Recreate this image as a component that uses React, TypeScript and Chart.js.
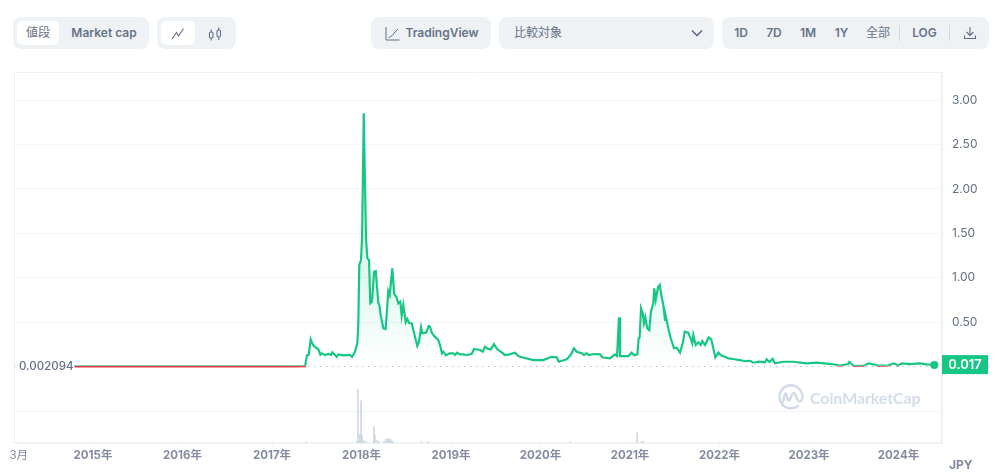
import React, { useEffect, useRef } from "react";
import { Chart, registerables } from "chart.js";

Chart.register(...registerables);

const FONT = 'Inter, "Noto Sans CJK JP", sans-serif';
const UP = "#16c784";
const DOWN = "#ea3943";

const baselinePrice = 0.002094;
const lastPriceLabel = "0.017";
const baselineLabel = "0.002094";
const currencyLabel = "JPY";

const priceTicks = [0.5, 1, 1.5, 2, 2.5, 3];
const volumeGrid = [20];
const xTickValues = [2014.17, 2015, 2016, 2017, 2018, 2019, 2020, 2021, 2022, 2023, 2024];
const xTickLabels = ["3月", "2015年", "2016年", "2017年", "2018年", "2019年", "2020年", "2021年", "2022年", "2023年", "2024年"];

const priceDates = [
  2014.79, 2015.05, 2015.3, 2015.55, 2015.8, 2016.05, 2016.3, 2016.55, 2016.8, 2017.05, 2017.25, 2017.369,
  2017.391, 2017.41, 2017.432, 2017.45, 2017.466, 2017.488, 2017.517, 2017.54, 2017.555, 2017.592, 2017.629, 2017.659,
  2017.674, 2017.723, 2017.741, 2017.797, 2017.871, 2017.894, 2017.927, 2017.953, 2017.964, 2017.975, 2017.994, 2018.006,
  2018.025, 2018.036, 2018.05, 2018.065, 2018.084, 2018.098, 2018.117, 2018.14, 2018.159, 2018.188, 2018.199, 2018.214,
  2018.244, 2018.27, 2018.299, 2018.315, 2018.344, 2018.366, 2018.389, 2018.411, 2018.433, 2018.449, 2018.467, 2018.494,
  2018.512, 2018.534, 2018.561, 2018.587, 2018.623, 2018.642, 2018.665, 2018.679, 2018.721, 2018.751, 2018.765, 2018.788,
  2018.818, 2018.855, 2018.877, 2018.899, 2018.914, 2018.944, 2018.981, 2019.026, 2019.045, 2019.067, 2019.1, 2019.137,
  2019.175, 2019.231, 2019.257, 2019.324, 2019.354, 2019.38, 2019.406, 2019.444, 2019.48, 2019.517, 2019.555, 2019.603,
  2019.651, 2019.715, 2019.752, 2019.771, 2019.919, 2020.031, 2020.125, 2020.181, 2020.203, 2020.293, 2020.337, 2020.374,
  2020.404, 2020.46, 2020.486, 2020.516, 2020.542, 2020.598, 2020.665, 2020.69, 2020.776, 2020.832, 2020.855, 2020.877,
  2020.888, 2020.925, 2020.981, 2021.019, 2021.045, 2021.082, 2021.097, 2021.108, 2021.123, 2021.142, 2021.156, 2021.171,
  2021.193, 2021.215, 2021.234, 2021.26, 2021.271, 2021.287, 2021.313, 2021.332, 2021.35, 2021.372, 2021.391, 2021.402,
  2021.428, 2021.455, 2021.492, 2021.522, 2021.559, 2021.589, 2021.611, 2021.651, 2021.678, 2021.696, 2021.707, 2021.734,
  2021.763, 2021.79, 2021.808, 2021.838, 2021.879, 2021.908, 2021.931, 2021.953, 2021.987, 2022.013, 2022.061, 2022.098,
  2022.154, 2022.221, 2022.285, 2022.341, 2022.378, 2022.433, 2022.508, 2022.527, 2022.556, 2022.594, 2022.62, 2022.713,
  2022.824, 2022.974, 2023.086, 2023.253, 2023.346, 2023.439, 2023.45, 2023.495, 2023.607, 2023.67, 2023.774, 2023.886,
  2023.95, 2023.998, 2024.036, 2024.128, 2024.24, 2024.315, 2024.4,
];

const prices = [
  0.0022, 0.0021, 0.0019, 0.0022, 0.0021, 0.0017, 0.002, 0.0022, 0.0021, 0.0018, 0.0021, 0.004,
  0.127, 0.134, 0.307, 0.262, 0.232, 0.217, 0.195, 0.134, 0.15, 0.131, 0.142, 0.131,
  0.161, 0.111, 0.138, 0.127, 0.131, 0.111, 0.168, 0.262, 0.468, 1.144, 1.2, 1.448,
  2.852, 2.195, 1.448, 1.219, 1.2, 0.713, 0.731, 1.069, 1.076, 0.713, 0.694, 0.581,
  0.431, 0.423, 0.851, 0.806, 1.107, 0.817, 0.787, 0.713, 0.731, 0.573, 0.694, 0.499,
  0.536, 0.488, 0.488, 0.378, 0.232, 0.28, 0.443, 0.375, 0.382, 0.457, 0.449, 0.375,
  0.337, 0.307, 0.243, 0.15, 0.168, 0.127, 0.15, 0.15, 0.131, 0.157, 0.138, 0.138,
  0.131, 0.142, 0.198, 0.187, 0.168, 0.224, 0.202, 0.195, 0.254, 0.195, 0.168, 0.131,
  0.138, 0.157, 0.119, 0.111, 0.074, 0.074, 0.111, 0.105, 0.055, 0.082, 0.131, 0.206,
  0.168, 0.15, 0.131, 0.15, 0.131, 0.142, 0.138, 0.105, 0.093, 0.138, 0.119, 0.555,
  0.119, 0.119, 0.119, 0.157, 0.127, 0.138, 0.319, 0.33, 0.656, 0.6, 0.488, 0.555,
  0.431, 0.412, 0.618, 0.713, 0.882, 0.75, 0.893, 0.919, 0.806, 0.694, 0.525, 0.555,
  0.431, 0.319, 0.206, 0.213, 0.157, 0.262, 0.393, 0.382, 0.319, 0.262, 0.356, 0.243,
  0.274, 0.243, 0.288, 0.243, 0.33, 0.307, 0.206, 0.105, 0.157, 0.127, 0.111, 0.093,
  0.086, 0.074, 0.063, 0.066, 0.044, 0.055, 0.048, 0.082, 0.052, 0.089, 0.037, 0.055,
  0.055, 0.037, 0.044, 0.029, 0.012, 0.029, 0.052, 0.012, 0.01, 0.037, 0.012, 0.014,
  0.037, 0.012, 0.037, 0.029, 0.037, 0.026, 0.017,
];

const volumeDates = [
  2017.383, 2017.949, 2017.96, 2017.982, 2017.994, 2018.005, 2018.027, 2018.05, 2018.139, 2018.15, 2018.176, 2018.19,
  2018.251, 2018.27, 2018.291, 2018.307, 2018.325, 2018.343, 2018.35, 2018.67, 2018.745, 2020.33, 2021.08, 2021.13, 2021.145,
];
const volumes = [
  0.7, 1, 33.75, 5.3, 26.3, 5, 1.3, 0.9, 10, 5, 1.6, 0.8,
  0.9, 2.2, 2.8, 2.8, 2.2, 1.2, 0.8, 0.8, 0.8, 0.7, 6.3, 0.9, 0.9,
];

const xMin = 2014.117;
const xMax = 2024.486;
const yMin = -0.86;
const yMax = 3.317;
const y2Max = 231.9;

const points = (xs: number[], ys: number[]) => xs.map((x, i) => ({ x, y: ys[i] }));

const clipPlugin = {
  id: "splitAtBaseline",
  beforeDatasetDraw(chart: any, args: any) {
    const side = (chart.data.datasets[args.index] as any).clipSide;
    if (!side) return;
    const { ctx, chartArea: a, scales } = chart;
    const py = scales.y.getPixelForValue(baselinePrice) - 0.7;
    ctx.save();
    ctx.beginPath();
    if (side === "above") ctx.rect(a.left, a.top - 2, a.right - a.left + 4, py - a.top + 2);
    else ctx.rect(a.left, py, a.right - a.left + 4, a.bottom - py);
    ctx.clip();
  },
  afterDatasetDraw(chart: any, args: any) {
    if ((chart.data.datasets[args.index] as any).clipSide) chart.ctx.restore();
  },
};

const framePlugin = {
  id: "frame",
  beforeDatasetsDraw(chart: any) {
    const { ctx, chartArea: a } = chart;
    ctx.save();
    ctx.strokeStyle = "#eff2f5";
    ctx.lineWidth = 1;
    ctx.beginPath();
    ctx.moveTo(a.left + 0.5, a.bottom);
    ctx.lineTo(a.left + 0.5, a.top + 0.5);
    ctx.lineTo(a.right, a.top + 0.5);
    ctx.stroke();
    ctx.lineWidth = 2;
    ctx.beginPath();
    ctx.moveTo(a.left, a.bottom);
    ctx.lineTo(a.right, a.bottom);
    ctx.lineTo(a.right, a.top);
    ctx.stroke();
    ctx.restore();
  },
};

const labelsPlugin = {
  id: "priceLabels",
  afterDraw(chart: any) {
    const { ctx, chartArea: a, scales } = chart;
    const baseY = scales.y.getPixelForValue(baselinePrice);
    const lastY = scales.y.getPixelForValue(prices[prices.length - 1]);
    ctx.save();
    ctx.textBaseline = "middle";
    ctx.textAlign = "left";
    ctx.font = `500 11.5px ${FONT}`;
    const w = ctx.measureText(baselineLabel).width;
    ctx.fillStyle = "#ffffff";
    ctx.fillRect(18, baseY - 7, w + 2, 14);
    ctx.fillStyle = "#616e85";
    ctx.fillText(baselineLabel, 19, baseY + 0.5);

    ctx.fillStyle = UP;
    ctx.fillRect(a.right, lastY - 10, 46, 19);
    ctx.fillStyle = "#ffffff";
    ctx.textAlign = "center";
    ctx.font = `600 13px ${FONT}`;
    ctx.fillText(lastPriceLabel, a.right + 23, lastY);

    ctx.fillStyle = "#808a9d";
    ctx.textAlign = "left";
    ctx.font = `700 12px ${FONT}`;
    ctx.fillText(currencyLabel, 949, 465.5);
    ctx.restore();
  },
};

const box = (left: number, top: number, width: number, height: number, extra: any = {}) => ({
  position: "absolute" as const,
  left,
  top,
  width,
  height,
  boxSizing: "border-box" as const,
  ...extra,
});

const text = (cx: number, label: string, weight = 600, size = 12, top = 21) => (
  <div
    style={box(cx - 40, top, 80, 24, {
      lineHeight: "24px",
      textAlign: "center",
      fontSize: size,
      fontWeight: weight,
      color: "#667389",
      whiteSpace: "nowrap",
    })}
  >
    {label}
  </div>
);

const panel = (left: number, width: number) => (
  <div style={box(left, 17, width, 32, { background: "#eff2f5", borderRadius: 8 })} />
);
const pill = (left: number, width: number) => (
  <div style={box(left, 21, width, 24, { background: "#ffffff", borderRadius: 6 })} />
);
const sep = (left: number) => <div style={box(left, 25, 1, 16, { background: "#cfd6e4" })} />;

const Toolbar = () => (
  <>
    {panel(13, 136)}
    {pill(17, 42)}
    {text(38, "値段", 400)}
    {text(104, "Market cap")}
    {panel(157, 79)}
    {pill(161, 34)}
    <svg style={box(171, 27, 14, 13)} viewBox="0 0 14 13" fill="none" stroke="#616e85" strokeWidth="1.1">
      <path d="M1 12 L5.5 5.5 L7.5 9 L12.5 1.5" />
    </svg>
    <svg style={box(208, 27, 14, 14)} viewBox="0 0 14 14" fill="none" stroke="#616e85" strokeWidth="1.1">
      <rect x="1.5" y="5" width="3.5" height="6" rx="1.5" />
      <path d="M3.2 2.5V5M3.2 11v2.5" />
      <rect x="9" y="3" width="3.5" height="7" rx="1.5" />
      <path d="M10.7 0.5V3M10.7 10v3" />
    </svg>
    {panel(371, 120)}
    <svg style={box(385, 26, 15, 15)} viewBox="0 0 15 15" fill="none" stroke="#616e85" strokeWidth="1">
      <path d="M1 1V14H14.5" />
      <path d="M3.5 11.5 C6 11 8 9 9 7 L13 3" />
    </svg>
    {text(442, "TradingView")}
    {panel(499, 215)}
    {text(538, "比較対象", 400)}
    <svg style={box(691, 29, 12, 8)} viewBox="0 0 12 8" fill="none" stroke="#616e85" strokeWidth="1.6">
      <path d="M1 1.5 L6 6.5 L11 1.5" />
    </svg>
    {panel(722, 267)}
    {text(741, "1D")}
    {text(774, "7D")}
    {text(808, "1M")}
    {text(841.5, "1Y")}
    {text(878, "全部", 400)}
    {sep(899)}
    {text(924.5, "LOG")}
    {sep(949)}
    <svg style={box(963, 26, 14, 14)} viewBox="0 0 14 14" fill="none" stroke="#616e85" strokeWidth="1.1">
      <path d="M7 1V9M3.5 6 L7 9.5 L10.5 6M1.5 9.5V12.5H12.5V9.5" />
    </svg>
  </>
);

const Watermark = () => (
  <>
    <svg style={box(778, 384, 26, 26)} viewBox="0 0 26 26" fill="none" stroke="#d5dce9" strokeWidth="2.6">
      <path d="M20 22 A11.5 11.5 0 1 1 24.5 13 C24.5 17 22 18 20.5 17 C18.5 15.5 18 11 16.5 9.5 C15 8.5 14 10 13 13 C12 16 11 17 10 16 C8.5 13.5 9 9.5 7.5 9.5 C6 9.5 6 15 5 18" strokeLinecap="round" />
    </svg>
    <div
      style={box(810, 386, 115, 24, {
        fontFamily: "Lato, sans-serif",
        fontWeight: 700,
        fontSize: 16,
        lineHeight: "24px",
        letterSpacing: "-0.1px",
        color: "#d5dce9",
        whiteSpace: "nowrap",
      })}
    >
      CoinMarketCap
    </div>
  </>
);

export default function App() {
  const ref = useRef<HTMLCanvasElement>(null);

  useEffect(() => {
    const gridColor = "#f3f5f8";
    const chart = new Chart(ref.current as HTMLCanvasElement, {
      type: "line",
      data: {
        datasets: [
          {
            data: [points(priceDates, prices)[prices.length - 1]],
            pointRadius: 4,
            pointBackgroundColor: UP,
            pointBorderWidth: 0,
            showLine: false,
            order: 0,
            clip: false,
          },
          {
            data: points(priceDates, prices),
            clipSide: "above",
            borderColor: UP,
            borderWidth: 2.2,
            pointRadius: 0,
            tension: 0,
            order: 1,
            fill: { value: baselinePrice },
            backgroundColor: (c: any) => {
              const { chart: ch } = c;
              if (!ch.chartArea) return "transparent";
              const g = ch.ctx.createLinearGradient(
                0,
                ch.scales.y.getPixelForValue(1),
                0,
                ch.scales.y.getPixelForValue(baselinePrice),
              );
              g.addColorStop(0, "rgba(22,199,132,0.13)");
              g.addColorStop(1, "rgba(22,199,132,0)");
              return g;
            },
          },
          {
            data: points(priceDates, prices),
            clipSide: "below",
            borderColor: DOWN,
            borderWidth: 2.2,
            pointRadius: 0,
            tension: 0,
            order: 2,
          },
          {
            data: points([priceDates[0], priceDates[priceDates.length - 1]], [baselinePrice, baselinePrice]),
            borderColor: "#8f98aa",
            borderWidth: 1,
            borderDash: [1, 5],
            pointRadius: 0,
            order: 3,
          },
          {
            data: points([xMin, priceDates[0]], [baselinePrice, baselinePrice]),
            borderColor: "rgba(234,57,67,0.1)",
            borderWidth: 2,
            pointRadius: 0,
            order: 4,
          },
          {
            type: "bar",
            data: points(volumeDates, volumes),
            yAxisID: "y2",
            backgroundColor: "#cfd6e4",
            barThickness: 1,
            order: 5,
          },
        ] as any,
      },
      options: {
        animation: false,
        responsive: false,
        devicePixelRatio: 1,
        layout: { padding: { left: 14, top: 72, right: 0, bottom: 0 } },
        plugins: { legend: { display: false }, tooltip: { enabled: false } },
        scales: {
          x: {
            type: "linear",
            min: xMin,
            max: xMax,
            offset: false,
            border: { display: false },
            grid: { offset: false, drawOnChartArea: false, drawTicks: true, tickLength: 3, tickColor: "#eff2f5" },
            afterBuildTicks: (axis: any) => {
              axis.ticks = xTickValues.map((value) => ({ value }));
            },
            afterFit: (axis: any) => {
              axis.height = 31;
            },
            ticks: {
              autoSkip: false,
              maxRotation: 0,
              padding: 3,
              callback: (v: any) => xTickLabels[xTickValues.indexOf(v)],
              font: (c: any) => ({ family: FONT, size: 11.5, weight: c.index === 0 ? "400" : "700" }),
              color: (c: any) => (c.index === 0 ? "#808a9d" : "#858ca2"),
            },
          },
          y: {
            position: "right",
            min: yMin,
            max: yMax,
            border: { display: false },
            grid: { color: gridColor, drawTicks: false },
            afterBuildTicks: (axis: any) => {
              axis.ticks = priceTicks.map((value) => ({ value }));
            },
            afterFit: (axis: any) => {
              axis.width = 53;
            },
            ticks: {
              padding: 10,
              autoSkip: false,
              callback: (v: any) => Number(v).toFixed(2),
              font: { family: FONT, size: 12, weight: "400" },
              color: "#616e85",
            },
          },
          y2: {
            position: "left",
            min: 0,
            max: y2Max,
            border: { display: false },
            grid: { color: gridColor, drawTicks: false },
            afterBuildTicks: (axis: any) => {
              axis.ticks = volumeGrid.map((value) => ({ value }));
            },
            afterFit: (axis: any) => {
              axis.width = 0;
            },
            ticks: { display: false },
          },
        },
      } as any,
      plugins: [clipPlugin, framePlugin, labelsPlugin],
    });
    return () => chart.destroy();
  }, []);

  return (
    <div style={box(0, 0, 995, 474, { overflow: "hidden", fontFamily: FONT, background: "#fff" })}>
      <Toolbar />
      <canvas ref={ref} width={995} height={474} style={box(0, 0, 995, 474, { display: "block" })} />
      <Watermark />
    </div>
  );
}
